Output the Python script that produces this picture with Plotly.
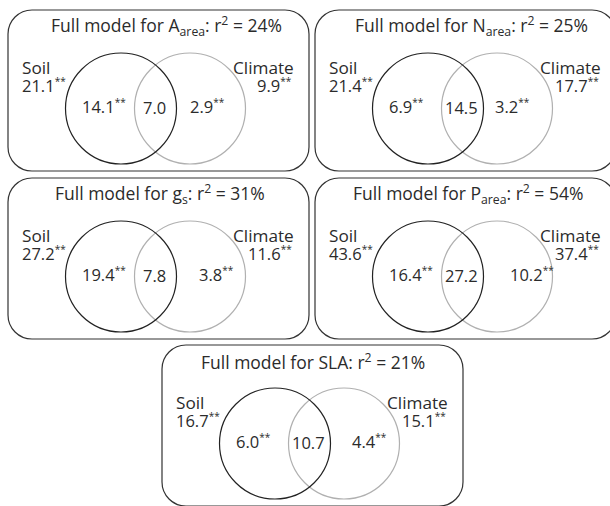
import plotly.graph_objects as go

# ---- data ----
traits = ["A<sub>area</sub>", "N<sub>area</sub>", "g<sub>s</sub>", "P<sub>area</sub>", "SLA"]
r2_pct = [24, 25, 31, 54, 21]
soil_total = [21.1, 21.4, 27.2, 43.6, 16.7]
climate_total = [9.9, 17.7, 11.6, 37.4, 15.1]
soil_only = [14.1, 6.9, 19.4, 16.4, 6.0]
shared = [7.0, 14.5, 7.8, 27.2, 10.7]
climate_only = [2.9, 3.2, 3.8, 10.2, 4.4]
sig = "<sup><span style='font-size:10px'>**</span></sup>"

# ---- layout (pixel geometry) ----
W, H = 610, 506
panel_origin = [(8, 10), (315, 10), (8, 178), (315, 178), (162, 345)]
PW, PH = 301, 161
RAD = 24
right_val_x = [180, 178, 189, 193, 188]
title_dx = [8, 6, 1, 2, 0]

FONT = "Open Sans"
TXT = "#2b2b2b"
F_TITLE, F_LAB, F_VAL = 17.5, 17.2, 16.5

fig = go.Figure()
shapes = []
ann = []


def rrect(x0, y0, w, h, r):
    x1, y1 = x0 + w, y0 + h
    k = 0.5523 * r
    return (f"M {x0+r},{y0} L {x1-r},{y0} C {x1-r+k},{y0} {x1},{y0+r-k} {x1},{y0+r} "
            f"L {x1},{y1-r} C {x1},{y1-r+k} {x1-r+k},{y1} {x1-r},{y1} "
            f"L {x0+r},{y1} C {x0+r-k},{y1} {x0},{y1-r+k} {x0},{y1-r} "
            f"L {x0},{y0+r} C {x0},{y0+r-k} {x0+r-k},{y0} {x0+r},{y0} Z")


def text(x, y, s, anchor="center", size=18):
    ann.append(dict(x=x, y=y, xref="x", yref="y", text=s, showarrow=False,
                    xanchor=anchor, yanchor="middle",
                    font=dict(family=FONT, size=size, color=TXT)))


for i, (ox, oy) in enumerate(panel_origin):
    shapes.append(dict(type="path", path=rrect(ox, oy, PW, PH, RAD), xref="x", yref="y",
                       line=dict(color="#333333", width=1.2)))
    cy = oy + 98.5
    R = 55.5
    for cx, col in [(ox + 182, "#b0b0b0"), (ox + 113, "#222222")]:
        shapes.append(dict(type="circle", xref="x", yref="y",
                           x0=cx - R, x1=cx + R, y0=cy - R, y1=cy + R,
                           line=dict(color=col, width=1.2)))
    text(ox + PW / 2 + title_dx[i], oy + 16,
         f"Full model for {traits[i]}: r<sup>2</sup> = {r2_pct[i]}%", size=F_TITLE)
    text(ox + 12, oy + 57, "Soil", "left", F_LAB)
    text(ox + 12, oy + 75, f"{soil_total[i]:.1f}{sig}", "left", F_VAL)
    text(ox + 288, oy + 57, "Climate", "right", F_LAB)
    text(ox + 286, oy + 75, f"{climate_total[i]:.1f}{sig}", "right", F_VAL)
    text(ox + 72, oy + 96, f"{soil_only[i]:.1f}{sig}", "left", F_VAL)
    text(ox + 146, oy + 97, f"{shared[i]:.1f}", "center", F_VAL)
    text(ox + right_val_x[i], oy + 96, f"{climate_only[i]:.1f}{sig}", "left", F_VAL)

fig.update_layout(
    width=W, height=H, margin=dict(l=0, r=0, t=0, b=0),
    paper_bgcolor="white", plot_bgcolor="white",
    xaxis=dict(range=[0, W], visible=False, fixedrange=True),
    yaxis=dict(range=[H, 0], visible=False, fixedrange=True),
    shapes=shapes, annotations=ann, showlegend=False,
)
fig.write_html("out.html", config={"displayModeBar": False},
               post_script="document.body.style.margin='0';document.body.style.overflow='hidden';")
